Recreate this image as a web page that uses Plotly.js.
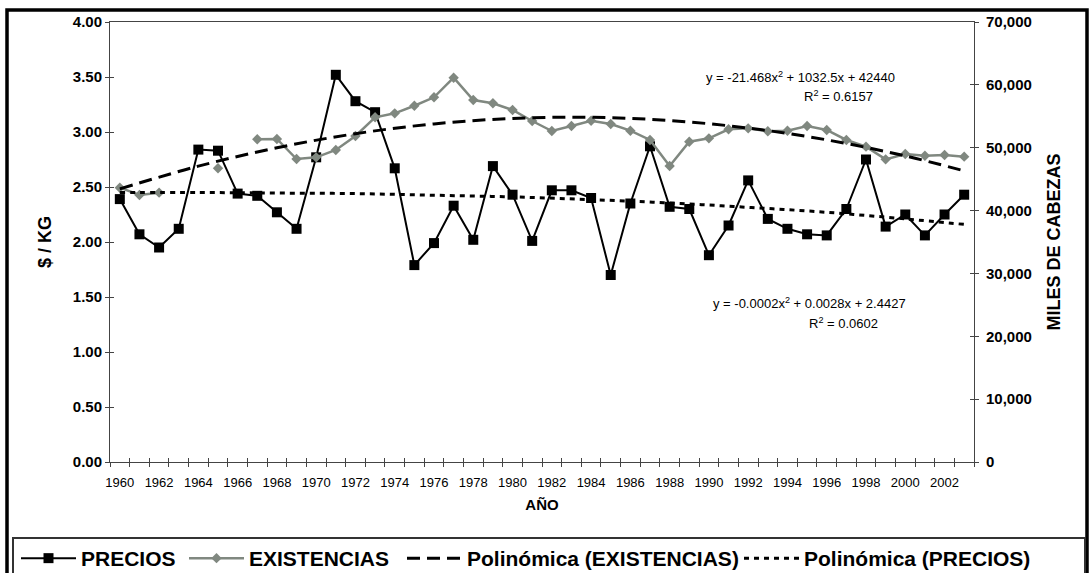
<!DOCTYPE html>
<html>
<head>
<meta charset="utf-8">
<script src="https://cdn.plot.ly/plotly-3.0.1.min.js"></script>
<style>html,body{margin:0;padding:0;background:#fff;}#chart{width:1091px;height:573px;}</style>
</head>
<body>
<div id="chart"></div>
<script>
// ---- data ----
const years = [1960,1961,1962,1963,1964,1965,1966,1967,1968,1969,
               1970,1971,1972,1973,1974,1975,1976,1977,1978,1979,
               1980,1981,1982,1983,1984,1985,1986,1987,1988,1989,
               1990,1991,1992,1993,1994,1995,1996,1997,1998,1999,
               2000,2001,2002,2003];
const precios = [2.39,2.07,1.95,2.12,2.84,2.83,2.44,2.42,2.27,2.12,
                 2.77,3.52,3.28,3.18,2.67,1.79,1.99,2.33,2.02,2.69,
                 2.43,2.01,2.47,2.47,2.40,1.70,2.35,2.87,2.32,2.30,
                 1.88,2.15,2.56,2.21,2.12,2.07,2.06,2.30,2.75,2.14,
                 2.25,2.06,2.25,2.43];
const existencias = [43640,42480,42850,null,null,46730,null,51340,51390,48200,
                     48470,49640,51860,54840,55470,56680,58020,61140,57590,57070,
                     56000,54250,52660,53450,54300,53770,52710,51230,47090,50960,
                     51490,52930,53080,52630,52710,53450,52820,51230,50170,48150,
                     49000,48730,48840,48580];
// trend lines
const trendYears = [1960,1964,1968,1972,1976,1980,1984,1988,1992,1996,2000,2003];
const trendExistencias = [43450,47070,49990,52230,53790,54650,54840,54330,53130,51250,48690,46310];
const trendPrecios = [2.45,2.45,2.445,2.44,2.425,2.41,2.385,2.355,2.315,2.27,2.21,2.16];
const xTickLabels = ['1960','1962','1964','1966','1968','1970','1972','1974','1976','1978','1980',
                     '1982','1984','1986','1988','1990','1992','1994','1996','1998','2000','2002'];
const leftTicks = [0,0.5,1,1.5,2,2.5,3,3.5,4];
const rightTicks = [0,10000,20000,30000,40000,50000,60000,70000];

// ---- geometry helpers ----
const L = 110, R = 974, T = 22, B = 462;
const px = p => (p - L) / (R - L);
const py = p => (B - p) / (B - T);

const xRange = [years[0] - 0.5, years[years.length - 1] + 0.5];
const boundaryTicks = [];
for (let i = 0; i <= years.length; i++) boundaryTicks.push(years[0] - 0.5 + i);
const labelVals = xTickLabels.map(Number);

const FONT = 'Liberation Sans, Arial, Helvetica, sans-serif';
const GRAY = '#808880';
const AX = '#444';

const traces = [
  { name: 'PRECIOS', legend: 'legend', x: years, y: precios, xaxis: 'x', yaxis: 'y', type: 'scatter', mode: 'lines+markers',
    line: { color: '#000', width: 2 }, marker: { symbol: 'square', size: 10, color: '#000' } },
  { name: 'EXISTENCIAS', legend: 'legend2', x: years, y: existencias, xaxis: 'x', yaxis: 'y2', type: 'scatter', mode: 'lines+markers',
    connectgaps: false, line: { color: GRAY, width: 2.5 }, marker: { symbol: 'diamond', size: 8, color: GRAY } },
  { name: 'Polinómica (EXISTENCIAS)', legend: 'legend3', x: trendYears, y: trendExistencias, xaxis: 'x2', yaxis: 'y4', type: 'scatter', mode: 'lines',
    line: { color: '#000', width: 3, dash: '13px,7px', shape: 'spline' } },
  { name: 'Polinómica (PRECIOS)', legend: 'legend4', x: trendYears, y: trendPrecios, xaxis: 'x3', yaxis: 'y3', type: 'scatter', mode: 'lines',
    line: { color: '#000', width: 3, dash: '5px,5px', shape: 'spline' } }
];

function legendAt(p) {
  return {
    orientation: 'h', x: px(p), xanchor: 'left', y: py(538), yanchor: 'top',
    font: { family: FONT, size: 21, color: '#000', weight: 'bold' },
    itemwidth: 55, bgcolor: 'rgba(0,0,0,0)', borderwidth: 0
  };
}

const layout = {
  width: 1091, height: 573,
  margin: { l: L, r: 1091 - R, t: T, b: 573 - B, pad: 0, autoexpand: false },
  paper_bgcolor: '#fff', plot_bgcolor: '#fff',
  font: { family: FONT, color: '#000' },
  showlegend: true,
  legend: legendAt(16),
  legend2: legendAt(184),
  legend3: legendAt(402),
  legend4: legendAt(739),
  xaxis: {
    range: xRange, tickmode: 'array', tickvals: boundaryTicks, showticklabels: false,
    ticks: 'outside', ticklen: 4, tickcolor: AX, tickwidth: 1,
    showline: true, linecolor: AX, linewidth: 1, mirror: true,
    showgrid: false, zeroline: false, anchor: 'y', fixedrange: true
  },
  xaxis2: {
    overlaying: 'x', anchor: 'y', side: 'bottom', range: xRange,
    tickmode: 'array', tickvals: labelVals, ticktext: xTickLabels,
    ticks: '', showline: false, showgrid: false, zeroline: false, ticklabelstandoff: 11,
    tickfont: { family: FONT, size: 13, color: '#000' },
    title: { text: 'AÑO', font: { family: FONT, size: 15, color: '#000', weight: 'bold' }, standoff: 10 }
  },
  xaxis3: {
    overlaying: 'x', anchor: 'y', range: xRange, tickmode: 'array', tickvals: boundaryTicks,
    ticks: 'inside', ticklen: 4, tickcolor: AX, showticklabels: false,
    showline: false, showgrid: false, zeroline: false
  },
  yaxis: {
    range: [0, 4], tickmode: 'array', tickvals: leftTicks, ticktext: leftTicks.map(v => v.toFixed(2)),
    ticks: 'outside', ticklen: 4, tickcolor: AX, showline: true, linecolor: AX, linewidth: 1,
    showgrid: false, zeroline: false, anchor: 'x',
    tickfont: { family: FONT, size: 15, color: '#000', weight: 'bold' },
    title: { text: '$ / KG', font: { family: FONT, size: 18, color: '#000', weight: 'bold' }, standoff: 16 }
  },
  yaxis3: {
    overlaying: 'y', side: 'left', anchor: 'x', range: [0, 4], tickmode: 'array', tickvals: leftTicks,
    ticks: 'inside', ticklen: 4, tickcolor: AX, showticklabels: false,
    showline: false, showgrid: false, zeroline: false
  },
  yaxis2: {
    overlaying: 'y', side: 'right', anchor: 'x', range: [0, 70000], tickmode: 'array', tickvals: rightTicks,
    tickformat: ',d', ticks: 'outside', ticklen: 4, tickcolor: AX, showline: true, linecolor: AX, linewidth: 1,
    showgrid: false, zeroline: false, ticklabelstandoff: 4,
    tickfont: { family: FONT, size: 15, color: '#000', weight: 'bold' },
    title: { text: 'MILES DE CABEZAS', font: { family: FONT, size: 18, color: '#000', weight: 'bold' }, standoff: 16 }
  },
  yaxis4: {
    overlaying: 'y', side: 'right', anchor: 'x', range: [0, 70000], tickmode: 'array', tickvals: rightTicks,
    ticks: 'inside', ticklen: 4, tickcolor: AX, showticklabels: false,
    showline: false, showgrid: false, zeroline: false
  },
  shapes: [
    { type: 'rect', xref: 'paper', yref: 'paper', x0: px(7), x1: px(1087), y0: py(600), y1: py(10),
      line: { color: '#000', width: 3.5 }, fillcolor: 'rgba(0,0,0,0)', layer: 'above' },
    { type: 'rect', xref: 'paper', yref: 'paper', x0: px(13), x1: px(1085), y0: py(600), y1: py(538),
      line: { color: '#333', width: 2 }, fillcolor: 'rgba(0,0,0,0)', layer: 'above' }
  ],
  annotations: [
    { xref: 'paper', yref: 'paper', x: px(800), y: py(77), text: 'y = -21.468x<sup>2</sup> + 1032.5x + 42440',
      showarrow: false, xanchor: 'center', yanchor: 'middle', font: { family: FONT, size: 13, color: '#000' } },
    { xref: 'paper', yref: 'paper', x: px(838), y: py(96), text: 'R<sup>2</sup> = 0.6157',
      showarrow: false, xanchor: 'center', yanchor: 'middle', font: { family: FONT, size: 13, color: '#000' } },
    { xref: 'paper', yref: 'paper', x: px(809), y: py(303), text: 'y = -0.0002x<sup>2</sup> + 0.0028x + 2.4427',
      showarrow: false, xanchor: 'center', yanchor: 'middle', font: { family: FONT, size: 13, color: '#000' } },
    { xref: 'paper', yref: 'paper', x: px(843), y: py(323), text: 'R<sup>2</sup> = 0.0602',
      showarrow: false, xanchor: 'center', yanchor: 'middle', font: { family: FONT, size: 13, color: '#000' } }
  ]
};

Plotly.newPlot('chart', traces, layout, { staticPlot: true, displayModeBar: false });
</script>
</body>
</html>
